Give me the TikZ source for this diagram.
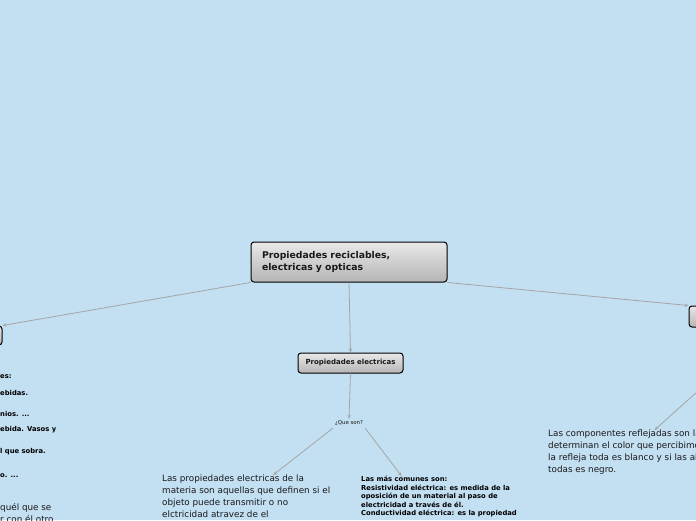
\documentclass[tikz,border=0pt]{standalone}
\usepackage{fontspec}
\setmainfont{DejaVu Sans}
\usetikzlibrary{arrows.meta,calc}
\definecolor{mmsky}{RGB}{195,223,242}
\definecolor{mmwire}{RGB}{165,165,165}
\definecolor{mmink}{RGB}{25,25,25}

\tikzset{
  topic/.style={draw=black,line width=1pt,rounded corners=3pt,
    top color=gray!18,bottom color=gray!58,text=mmink,font=\bfseries},
  wire/.style={mmwire,line width=0.8pt,->},
  bodytext/.style={inner sep=0pt,align=left,text=mmink,
    font=\fontsize{8.8}{12}\selectfont},
  smalltext/.style={inner sep=0pt,align=left,text=black,
    font=\fontsize{6.8}{8.5}\selectfont\bfseries},
}

\begin{document}
\begin{tikzpicture}[x=1pt,y=-1pt,>={Stealth[length=4pt,width=3.5pt]}]
  \useasboundingbox (0,0) rectangle (696,520);
  \fill[mmsky] (0,0) rectangle (696,520);
  \clip (0,0) rectangle (696,520);

  % central topic and its three branches
  \node[topic,minimum width=196pt,minimum height=40pt,inner xsep=11pt,
    text width=174pt,align=left,font=\fontsize{9.3}{12}\selectfont\bfseries]
    (main) at (349,262) {Propiedades reciclables,\\electricas y opticas};
  \node[topic,minimum width=44pt,minimum height=19pt] (recic) at (-20,335.5) {};
  \node[topic,minimum width=160pt,minimum height=21pt] (optic) at (769,316.5) {};
  \node[topic,minimum width=105pt,minimum height=20pt,
    font=\fontsize{7}{8}\selectfont\bfseries] (elec) at (350.5,363) {Propiedades electricas};

  \draw[wire] (main.south west) -- (recic.north east);
  \draw[wire] (main.south east) -- (optic.north west);
  \draw[wire] (main.south) -- (elec.north);

  % electricas
  \node[inner sep=2pt,text=mmink,font=\fontsize{5.4}{6}\selectfont] (queson) at (349,423.5) {¿Que son?};
  \draw[wire] (elec.south) -- (queson.north);

  \node[bodytext,anchor=north west] (def) at (162,475)
    {Las propiedades electricas de la\\materia son aquellas que definen si el\\objeto puede transmitir o no\\elctricidad atravez de el};
  \node[smalltext,anchor=north west] (comunes) at (361,476)
    {Las más comunes son:\\Resistividad eléctrica: es medida de la\\oposición de un material al paso de\\electricidad a través de él.\\Conductividad eléctrica: es la propiedad};
  \draw[wire] (queson.south west) -- ($(def.north west)!0.66!(def.north east)$);
  \draw[wire] (queson.south east) -- ($(comunes.north west)!0.26!(comunes.north east)$);

  % opticas
  \node[bodytext,anchor=north west] (color) at (548,430)
    {Las componentes reflejadas son las\\determinan el color que percibimos\\la refleja toda es blanco y si las absorbe\\todas es negro.};
  \draw[wire] (optic.south) -- ($(color.north west)!0.60!(color.north east)$);

  % reciclables
  \foreach \yy/\txt in {377/{es:},393/{ebidas.},414/{nios. ...},430/{ebida. Vasos y},452/{l que sobra.},476/{o. ...}}
    \node[smalltext,anchor=west] (frag\yy) at (0,\yy) {\txt};
  \node[bodytext,anchor=north west] (ajeno) at (0,503) {quél que se\\r con él otro};
\end{tikzpicture}
\end{document}
